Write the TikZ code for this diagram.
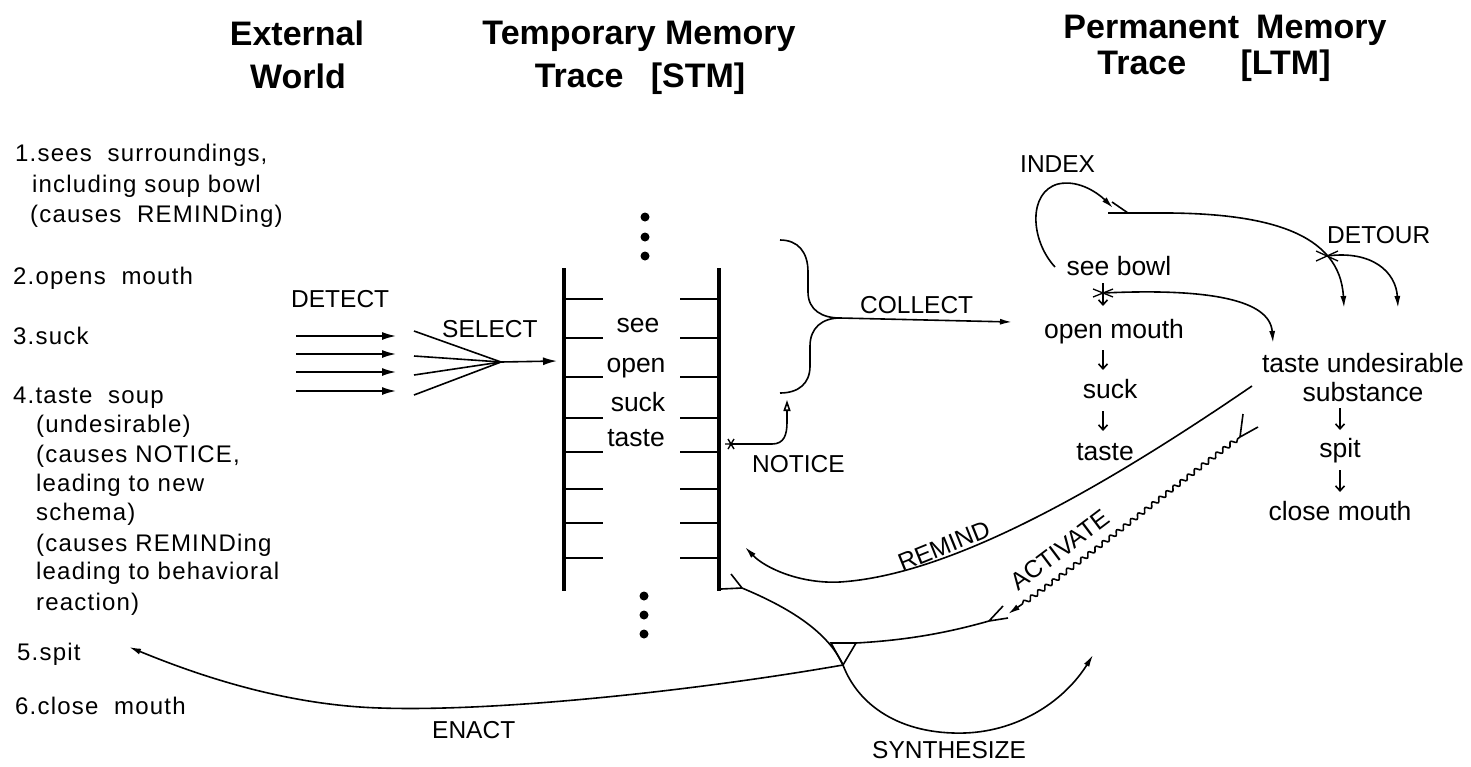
\documentclass[tikz,border=0pt]{standalone}
\usepackage{fontspec}
\setmainfont{Liberation Sans}
\newfontfamily\lstfont[LetterSpace=5]{Liberation Sans}
\usetikzlibrary{arrows.meta,decorations.pathmorphing,calc}
\begin{document}
\begin{tikzpicture}[x=1pt,y=-1pt,
  ln/.style={line width=1.6pt},
  rail/.style={line width=3.2pt},
  tipA/.style={-{Latex[length=14pt,width=8pt]}},
  tipB/.style={-{Latex[length=12pt,width=6pt]}},
  dn/.style={line width=1.6pt,-{Straight Barb[length=5pt,width=9pt]}},
  hdr/.style={font=\fontsize{34}{38}\selectfont\bfseries, inner sep=0pt, anchor=base},
  lst/.style={font=\lstfont\fontsize{24}{28}\selectfont, inner sep=0pt, anchor=base west},
  lbl/.style={font=\fontsize{24.5}{28}\selectfont, inner sep=0pt, anchor=base west},
  wd/.style={font=\fontsize{26.5}{30}\selectfont, inner sep=0pt, anchor=base},
  dotm/.style={circle, fill, inner sep=0pt, minimum size=9pt}
]
\useasboundingbox (0,0) rectangle (1471,766);

% ---------- headers
\node[hdr] (hExt)   at (297,45)  {External};
\node[hdr] (hWorld) at (298,88)  {World};
\node[hdr] (hTemp)  at (639,44)  {Temporary Memory};
\node[hdr] (hSTM)   at (640,87)  {Trace\hspace{0.8em}[STM]};
\node[hdr] (hPerm)  at (1225,38) {Permanent\hspace{0.5em}Memory};
\node[hdr] (hLTM)   at (1214,74) {Trace\hspace{1.6em}[LTM]};

% ---------- external world list
\node[lst] (l1a) at (15,161) {1.sees\ \ surroundings,};
\node[lst] (l1b) at (32,192) {including soup bowl};
\node[lst] (l1c) at (30,222) {(causes\ \ REMINDing)};
\node[lst] (l2)  at (13,284) {2.opens\ \ mouth};
\node[lst] (l3)  at (13,344) {3.suck};
\node[lst] (l4a) at (13,403) {4.taste\ \ soup};
\node[lst] (l4b) at (36,432) {(undesirable)};
\node[lst] (l4c) at (36,462) {(causes NOTICE,};
\node[lst] (l4d) at (36,491) {leading to new};
\node[lst] (l4e) at (36,520) {schema)};
\node[lst] (l4f) at (36,551) {(causes REMINDing};
\node[lst] (l4g) at (36,579) {leading to behavioral};
\node[lst] (l4h) at (36,610) {reaction)};
\node[lst] (l5)  at (17,660) {5.spit};
\node[lst] (l6)  at (15,714) {6.close\ \ mouth};

% ---------- labels
\node[lbl] (tDetect)  at (291,307) {DETECT};
\node[lbl] (tSelect)  at (442,337) {SELECT};
\node[lbl] (tCollect) at (860,313) {COLLECT};
\node[lbl] (tNotice)  at (752,472) {NOTICE};
\node[lbl] (tIndex)   at (1020,172) {INDEX};
\node[lbl] (tDetour)  at (1327,243) {DETOUR};
\node[lbl] (tEnact)   at (432,738) {ENACT};
\node[lbl] (tSynth)   at (872,758) {SYNTHESIZE};
\node[font=\fontsize{24.5}{28}\selectfont, inner sep=0pt, rotate=22] (tRemind) at (944,546) {REMIND};
\node[font=\fontsize{24.5}{28}\selectfont, inner sep=0pt, rotate=37] (tActivate) at (1060,550) {ACTIVATE};

% ---------- detect arrows
\foreach \i/\y in {1/336,2/354,3/372,4/391}{
  \coordinate (ds\i) at (296,\y);
  \coordinate (de\i) at (396,\y);
  \draw[ln,tipA] (ds\i) -- (de\i);
}
% ---------- select fan
\coordinate (fanJ) at (501,362);
\coordinate (stmIn) at (557,361);
\foreach \i/\y in {1/331,2/356,3/375,4/395}{
  \coordinate (fs\i) at (414,\y);
  \draw[ln] (fs\i) -- (fanJ);
}
\draw[ln,tipA] (fanJ) -- (stmIn);

% ---------- STM ladder
\coordinate (lt) at (564,268); \coordinate (lb) at (564,591);
\coordinate (rt) at (719,268); \coordinate (rb) at (719,591);
\draw[rail] (lt) -- (lb);
\draw[rail] (rt) -- (rb);
\foreach \y in {299,338,377,418,452,489,523,558}{
  \draw[ln] (564,\y) -- (603,\y);
  \draw[ln] (680,\y) -- (719,\y);
}
\foreach \i/\y in {1/217,2/237,3/256}{ \node[dotm] (dt\i) at (645,\y) {}; }
\foreach \i/\y in {1/596,2/615,3/634}{ \node[dotm] (db\i) at (644,\y) {}; }
\node[wd] (sSee)   at (638,332) {see};
\node[wd] (sOpen)  at (636,372) {open};
\node[wd] (sSuck)  at (638,411) {suck};
\node[wd] (sTaste) at (636,446) {taste};

% ---------- brace and collect
\coordinate (brTop) at (780,240);
\coordinate (brTip) at (840,318);
\coordinate (brBot) at (780,393);
\coordinate (colEnd) at (1012,322);
\draw[ln] (brTop) .. controls (798,240) and (808,252) .. (808,272) -- (808,292)
          .. controls (808,310) and (822,318) .. (brTip);
\draw[ln] (brTip) .. controls (822,318) and (810,328) .. (810,346) -- (810,366)
          .. controls (810,384) and (798,393) .. (brBot);
\draw[ln,tipB] (brTip) -- (colEnd);

% ---------- notice
\coordinate (star) at (731,444);
\coordinate (notEnd) at (787,400);
\draw[line width=1.4pt] ($(star)+(-6,0)$) -- ($(star)+(6,0)$)
   ($(star)+(-3,-5)$) -- ($(star)+(3,5)$) ($(star)+(3,-5)$) -- ($(star)+(-3,5)$);
\draw[ln,-{Triangle[open,length=11pt,width=7pt]}] (star) -- (772,444)
   .. controls (784,444) and (787,435) .. (787,422) -- (notEnd);

% ---------- LTM chain
\node[wd] (mSee)   at (1119,275) {see bowl};
\node[wd] (mOpen)  at (1114,338) {open mouth};
\node[wd] (mSuck)  at (1110,398) {suck};
\node[wd] (mTaste) at (1105,460) {taste};
\coordinate (a1s) at (1103,350); \coordinate (a1e) at (1103,370);
\coordinate (a2s) at (1103,411); \coordinate (a2e) at (1103,431);
\draw[dn] (a1s) -- (a1e);
\draw[dn] (a2s) -- (a2e);
\coordinate (a0s) at (1103,283); \coordinate (a0e) at (1103,306);
\draw[dn] (a0s) -- (a0e);
\coordinate (x0) at (1103,293);
\draw[line width=1.3pt] ($(x0)+(-10,-4)$) -- ($(x0)+(10,4)$) ($(x0)+(-10,4)$) -- ($(x0)+(10,-4)$);
\coordinate (tuIn) at (1273,343);
\draw[ln,tipB] (x0) .. controls (1210,288) and (1270,300) .. (tuIn);

\node[wd] (mTU)    at (1363,372) {taste undesirable};
\node[wd] (mSub)   at (1363,401) {substance};
\node[wd] (mSpit)  at (1340,457) {spit};
\node[wd] (mClose) at (1340,520) {close mouth};
\coordinate (a3s) at (1340,408); \coordinate (a3e) at (1340,430);
\coordinate (a4s) at (1340,470); \coordinate (a4e) at (1340,492);
\draw[dn] (a3s) -- (a3e);
\draw[dn] (a4s) -- (a4e);

% ---------- index loop and detour
\coordinate (ix0) at (1055,267);
\coordinate (ixEnd) at (1113,208);
\draw[ln,tipB] (ix0) .. controls (1030,240) and (1028,192) .. (1058,184)
   .. controls (1080,179) and (1100,195) .. (ixEnd);
\draw[ln] (1112,202) -- (1128,213);
\coordinate (dt0) at (1108,213);
\coordinate (dtEnd1) at (1344,308);
\draw[ln,tipB] (dt0) -- (1170,213) .. controls (1265,214) and (1340,232) .. (dtEnd1);
\coordinate (dx) at (1327,256);
\draw[line width=1.3pt] ($(dx)+(-11,-5)$) -- ($(dx)+(11,5)$) ($(dx)+(-11,5)$) -- ($(dx)+(11,-5)$);
\coordinate (dtEnd2) at (1398,308);
\draw[ln,tipB] (dx) .. controls (1372,250) and (1396,272) .. (dtEnd2);

% ---------- remind
\coordinate (rmS) at (1252,386);
\coordinate (rmE) at (745,547);
\draw[ln,tipB] (rmS) .. controls (1100,490) and (950,575) .. (840,582)
   .. controls (800,584) and (765,568) .. (rmE);

% ---------- activate (wavy)
\coordinate (acS) at (1240,437);
\coordinate (acE) at (1008,614);
\draw[ln,tipB,decorate,decoration={snake,amplitude=2.2pt,segment length=9pt,pre length=3pt,post length=14pt}]
   (acS) .. controls (1160,497) and (1075,568) .. (acE);
\draw[ln] (acS) -- (1243,414) (acS) -- (1258,427);

% ---------- synthesize / triangle / enact
\coordinate (fk) at (742,588);
\draw[ln] (fk) -- (721,589) (fk) -- (731,574);
\coordinate (triL) at (831,643);
\coordinate (triR) at (856,643);
\coordinate (triB) at (843,665);
\draw[ln] (triL) -- (triR) -- (triB) -- cycle;
\coordinate (syEnd) at (1093,655);
\draw[ln,tipB] (fk) .. controls (790,608) and (828,632) .. (triB)
   .. controls (858,705) and (900,735) .. (965,733)
   .. controls (1020,731) and (1065,700) .. (syEnd);
\coordinate (lwE) at (989,621);
\draw[ln] (triR) .. controls (910,640) and (950,632) .. (lwE);
\draw[ln] (lwE) -- (1003,606) (lwE) -- (1008,618);
\coordinate (enE) at (129,647);
\draw[ln,tipB] (triB) .. controls (700,690) and (500,712) .. (380,708)
   .. controls (280,705) and (190,672) .. (enE);
\end{tikzpicture}
\end{document}
